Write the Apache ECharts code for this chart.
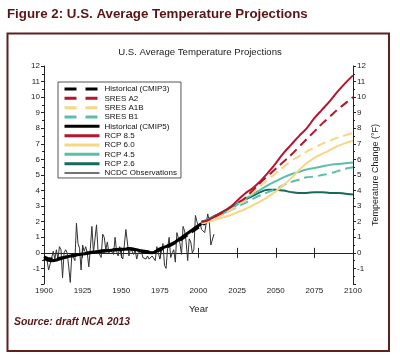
<!DOCTYPE html>
<html><head><meta charset="utf-8">
<script src="https://cdn.jsdelivr.net/npm/echarts@6/dist/echarts.min.js"></script>
<style>html,body{margin:0;padding:0;background:#fff}#c{width:400px;height:356px}</style>
</head><body><div id="c"></div>
<script>
// ---- data ----
const obsStartYear = 1900;
const obsValues = [
 -0.2,-0.1,-0.5,-1.1,-0.7,-0.8,0.1,-0.4,0.2,-0.4,
 0.4,0.2,-1.6,0.0,0.2,0.0,-0.9,-1.9,-0.1,-0.1,
 -0.5,1.9,0.6,0.3,-1.1,0.5,0.1,0.4,0.0,-0.9,
 0.3,1.7,0.0,0.9,1.8,0.1,0.2,-0.3,1.2,1.0,
 0.2,0.7,0.0,0.2,0.1,-0.1,1.0,0.1,-0.2,0.4,
 -0.2,-0.4,0.5,1.5,1.4,-0.2,0.3,0.2,-0.1,0.2,
 -0.4,0.0,0.0,0.1,-0.3,-0.2,-0.4,-0.2,-0.4,-0.5,
 -0.2,-0.2,-0.5,0.4,0.3,-0.4,-0.5,0.6,-0.8,-1.0,
 0.3,1.0,-0.3,0.0,0.2,-0.6,1.3,1.3,0.6,-0.1,
 1.7,1.4,0.7,-0.5,0.9,0.7,0.0,0.2,2.4,2.0,
 1.7,1.9,1.5,1.6,1.3,1.9,2.5,2.0,0.5,0.5,1.2
];
const histYears = [1900,1905,1910,1915,1920,1925,1930,1935,1940,1945,1950,1955,1960,1965,1970,1975,1980,1985,1990,1995,2000,2005];
const histCMIP3 = [-0.25,-0.4,-0.35,-0.25,-0.15,-0.05,0.02,0.1,0.15,0.2,0.25,0.28,0.18,0.1,0.05,0.2,0.4,0.65,0.95,1.3,1.65,1.95];
const histCMIP5 = [-0.35,-0.5,-0.4,-0.25,-0.15,-0.08,0.0,0.08,0.12,0.18,0.22,0.25,0.2,0.05,0.0,0.25,0.45,0.7,1.05,1.4,1.75,2.05];
const projYears = [2002,2005,2010,2015,2020,2025,2030,2035,2040,2045,2050,2055,2060,2065,2070,2075,2080,2085,2090,2095,2100];
const sresA2  = [2.0,2.05,2.3,2.55,2.9,3.2,3.5,4.0,4.5,4.95,5.4,5.85,6.3,6.8,7.3,7.8,8.3,8.75,9.2,9.6,10.0];
const sresA1B = [1.9,2.0,2.2,2.45,2.7,3.05,3.4,3.85,4.3,4.7,5.1,5.5,5.9,6.2,6.5,6.75,7.0,7.2,7.4,7.55,7.7];
const sresB1  = [2.0,2.05,2.2,2.45,2.7,2.95,3.2,3.45,3.7,3.9,4.1,4.35,4.55,4.7,4.85,4.9,5.0,5.1,5.25,5.4,5.5];
const rcp85 = [2.0,2.05,2.3,2.6,2.9,3.35,3.8,4.15,4.6,5.15,5.75,6.4,6.95,7.5,8.0,8.65,9.2,9.75,10.35,10.9,11.4];
const rcp60 = [1.9,1.95,2.1,2.25,2.4,2.6,2.8,3.05,3.3,3.6,3.95,4.35,4.8,5.3,5.75,6.1,6.35,6.6,6.85,7.05,7.2];
const rcp45 = [2.0,2.1,2.3,2.5,2.75,3.1,3.45,3.75,4.05,4.35,4.6,4.85,5.05,5.2,5.35,5.45,5.55,5.65,5.7,5.75,5.8];
const rcp26 = [2.0,2.1,2.35,2.6,2.85,3.15,3.4,3.65,3.9,4.05,4.05,4.0,3.9,3.85,3.85,3.9,3.9,3.85,3.85,3.8,3.75];
const xTicks = [1900,1925,1950,1975,2000,2025,2050,2075,2100];
const yTicks = [-2,-1,0,1,2,3,4,5,6,7,8,9,10,11,12];

// ---- styling ----
const RED = '#b5152f', YEL = '#f9d584', TEAL = '#5bbfae', DKTEAL = '#17695b';
const FONT = 'Liberation Sans';
const pairs = (xs, ys) => xs.map((x, i) => [x, ys[i]]);
const obsData = obsValues.map((v, i) => [obsStartYear + i, v]);

function line(name, data, color, width, type, z, smooth) {
  return { name, type: 'line', data, symbol: 'none', smooth: smooth,
    lineStyle: { color, width, type: type || 'solid' }, itemStyle: { color },
    z, silent: true, animation: false };
}
const dash = [9, 5];

const chart = echarts.init(document.getElementById('c'), null, { renderer: 'canvas' });
const yAxisBase = {
  type: 'value', min: yTicks[0], max: yTicks[yTicks.length - 1], interval: 1,
  axisLine: { show: true, lineStyle: { color: '#222', width: 1 } },
  axisTick: { show: true, inside: false, length: 3, lineStyle: { color: '#222' } },
  minorTick: { show: true, splitNumber: 2, length: 2, lineStyle: { color: '#222' } },
  splitLine: { show: false },
  axisLabel: { fontFamily: FONT, fontSize: 8, color: '#222', margin: 4,
    formatter: v => (v === yTicks[0] ? '' : String(v)) }
};
const xAxisBase = {
  type: 'value', min: xTicks[0], max: xTicks[xTicks.length - 1], interval: 25,
  axisLine: { show: true, lineStyle: { color: '#222', width: 1 } },
  axisTick: { show: true, inside: true, length: 5, lineStyle: { color: '#222' } },
  splitLine: { show: false }
};
const legendLine = (name, color, width, type) => ({ name, lineStyle: { color, width, type },
  itemStyle: { color: 'rgba(0,0,0,0)', borderWidth: 0, opacity: 0 } });

chart.setOption({
  animation: false,
  backgroundColor: '#fff',
  title: [
    { text: 'Figure 2: U.S. Average Temperature Projections', left: 7, top: 8, padding: 0,
      textStyle: { fontFamily: FONT, fontSize: 13.3, fontWeight: 'bold', color: '#5a1414' } },
    { text: 'U.S. Average Temperature Projections', left: 'center', top: 47, padding: 0,
      textStyle: { fontFamily: FONT, fontSize: 9.6, fontWeight: 'normal', color: '#222' } },
    { text: 'Source: draft NCA 2013', left: 14, top: 317, padding: 0,
      textStyle: { fontFamily: FONT, fontSize: 10.4, fontWeight: 'bold', fontStyle: 'italic', color: '#5a1414' } }
  ],
  graphic: [{ type: 'rect', shape: { x: 7.5, y: 33.5, width: 381.5, height: 317.5 },
    style: { fill: 'none', stroke: '#5a2320', lineWidth: 2 }, z: 100 }],
  grid: { left: 44, top: 66, right: 47, bottom: 72, containLabel: false },
  xAxis: [
    Object.assign({}, xAxisBase, { position: 'bottom', name: 'Year', nameLocation: 'middle', nameGap: 20,
      nameMoveOverlap: false,
      nameTextStyle: { fontFamily: FONT, fontSize: 9.5, color: '#222' },
      axisLabel: { fontFamily: FONT, fontSize: 8, color: '#222', margin: 3, formatter: v => String(v) } }),
    Object.assign({}, xAxisBase, { position: 'top', axisLabel: { show: false } })
  ],
  yAxis: [
    Object.assign({}, yAxisBase, { position: 'left' }),
    Object.assign({}, yAxisBase, { position: 'right', name: 'Temperature Change (°F)', nameLocation: 'middle',
      nameRotate: 90, nameGap: 18, nameMoveOverlap: false,
      nameTextStyle: { fontFamily: FONT, fontSize: 9, color: '#222' } })
  ],
  legend: {
    left: 58, top: 82, orient: 'vertical', padding: [3, 4, 1, 5],
    itemWidth: 35, itemHeight: 8, itemGap: 1.33,
    borderColor: '#555', borderWidth: 1, backgroundColor: '#fff',
    selectedMode: false,
    textStyle: { fontFamily: FONT, fontSize: 8, color: '#111' },
    data: [
      legendLine('Historical (CMIP3)', '#000', 3, [12, 9]),
      legendLine('SRES A2', RED, 3, [12, 9]),
      legendLine('SRES A1B', YEL, 3, [12, 9]),
      legendLine('SRES B1', TEAL, 3, [12, 9]),
      legendLine('Historical (CMIP5)', '#000', 3, 'solid'),
      legendLine('RCP 8.5', RED, 3, 'solid'),
      legendLine('RCP 6.0', YEL, 3, 'solid'),
      legendLine('RCP 4.5', TEAL, 3, 'solid'),
      legendLine('RCP 2.6', DKTEAL, 3, 'solid'),
      legendLine('NCDC Observations', '#444', 1.5, 'solid')
    ]
  },
  series: [
    line('NCDC Observations', obsData, '#333', 1, 'solid', 2, false),
    line('Historical (CMIP3)', pairs(histYears, histCMIP3), '#000', 3, dash, 3, 0.4),
    line('Historical (CMIP5)', pairs(histYears, histCMIP5), '#000', 3, 'solid', 3, 0.4),
    line('RCP 2.6', pairs(projYears, rcp26), DKTEAL, 2, 'solid', 4, 0.4),
    line('SRES B1', pairs(projYears, sresB1), TEAL, 2, dash, 4, 0.4),
    line('RCP 4.5', pairs(projYears, rcp45), TEAL, 2, 'solid', 4, 0.4),
    line('RCP 6.0', pairs(projYears, rcp60), YEL, 2, 'solid', 4, 0.4),
    line('SRES A1B', pairs(projYears, sresA1B), YEL, 2, dash, 4, 0.4),
    line('SRES A2', pairs(projYears, sresA2), RED, 2, dash, 4, 0.4),
    line('RCP 8.5', pairs(projYears, rcp85), RED, 2, 'solid', 4, 0.4)
  ]
});
</script></body></html>
